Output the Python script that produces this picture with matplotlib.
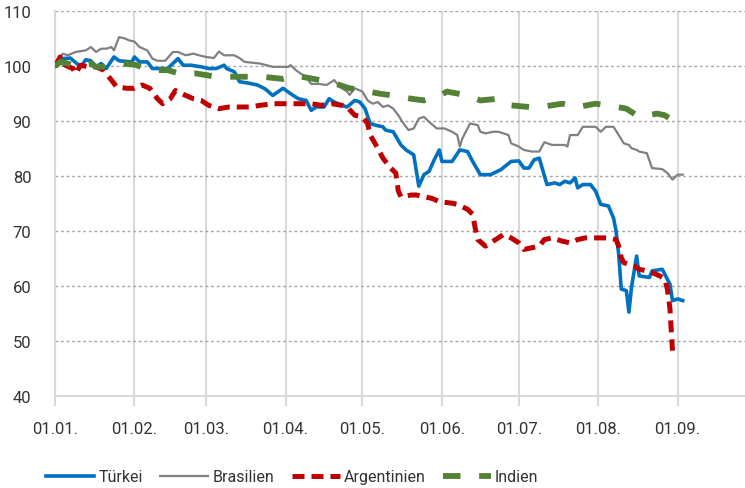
import numpy as np
import pandas as pd
import matplotlib
matplotlib.use('Agg')
import matplotlib.pyplot as plt
import matplotlib.dates as mdates

plt.rcParams['font.family'] = ['Roboto', 'DejaVu Sans']

start = pd.Timestamp('2018-01-01')

# days after 01.01. and index values
tuerkei_days = [0, 3, 6, 10, 12, 14, 16, 18, 20, 23, 25, 30, 31, 33, 36, 38, 44, 46, 48, 50,
                53, 57, 60, 63, 66, 67, 70, 72, 76, 79, 82, 85, 89, 92, 95, 98, 100, 102, 105, 107,
                109, 112, 114, 117, 119, 121, 123, 125, 128, 129, 132, 135, 137, 140, 142, 144, 146, 148, 150, 151,
                155, 158, 161, 163, 166, 170, 174, 178, 181, 183, 185, 187, 189, 192, 195, 197, 199, 201, 203, 204,
                206, 209, 211, 213, 216, 218, 219, 220, 221, 223, 224, 225, 227, 228, 232, 233, 237, 238, 240, 241,
                243, 245]
tuerkei = [100.0, 101.4, 101.5, 99.9, 101.2, 101.0, 99.9, 100.5, 99.6, 101.7, 101.0, 100.8, 101.7, 100.8, 100.8, 99.6, 99.6, 100.5, 101.4, 100.2,
           100.2, 99.9, 99.6, 99.6, 100.2, 99.6, 99.0, 97.2, 96.9, 96.6, 95.9, 94.7, 96.0, 95.0, 94.1, 93.8, 92.0, 92.6, 92.6, 94.1,
           93.5, 92.9, 92.6, 93.8, 93.5, 92.3, 89.6, 89.3, 89.0, 88.4, 88.1, 85.7, 84.8, 83.9, 78.2, 80.3, 80.9, 83.0, 84.8, 82.7,
           82.7, 84.8, 84.5, 82.7, 80.3, 80.3, 81.2, 82.7, 82.8, 81.5, 81.5, 83.0, 83.3, 78.5, 78.8, 78.5, 79.1, 78.8, 79.7, 77.9,
           78.5, 78.5, 77.3, 74.9, 74.6, 72.4, 70.0, 65.8, 59.5, 59.2, 55.3, 59.8, 65.5, 61.9, 61.6, 62.8, 63.1, 62.2, 60.4, 57.4,
           57.7, 57.4]

brasilien_days = [0, 3, 5, 8, 12, 14, 16, 18, 20, 22, 23, 25, 27, 29, 31, 33, 36, 38, 40, 43,
                  46, 48, 51, 54, 57, 59, 62, 64, 66, 70, 72, 74, 80, 85, 91, 92, 94, 98, 100, 103,
                  106, 109, 111, 114, 115, 117, 120, 122, 124, 126, 128, 130, 132, 134, 136, 138, 140, 142, 144, 146,
                  149, 152, 155, 157, 158, 159, 162, 165, 166, 168, 171, 173, 175, 177, 178, 181, 183, 186, 189, 191,
                  194, 199, 200, 201, 204, 206, 211, 213, 215, 218, 220, 222, 224, 225, 227, 228, 231, 233, 237, 239,
                  241, 243, 245]
brasilien = [100.0, 102.3, 102.0, 102.6, 102.9, 103.5, 102.6, 103.2, 103.2, 103.5, 102.9, 105.3, 105.1, 104.7, 104.5, 103.5, 102.9, 101.4, 101.0, 101.0,
             102.6, 102.6, 102.0, 102.3, 101.9, 101.7, 101.5, 102.7, 102.0, 102.0, 101.5, 100.8, 100.5, 99.9, 99.9, 100.2, 99.3, 98.0, 96.8, 96.8,
             96.6, 97.5, 96.3, 95.4, 94.8, 96.0, 95.4, 93.8, 93.2, 93.5, 92.6, 92.9, 92.3, 91.1, 89.6, 88.4, 88.7, 90.5, 90.8, 89.9,
             88.7, 88.7, 88.1, 87.5, 85.4, 86.9, 89.6, 89.3, 88.1, 87.8, 88.1, 88.1, 87.8, 87.5, 86.0, 85.4, 84.8, 84.5, 84.5, 86.2,
             85.7, 85.7, 85.4, 87.5, 87.5, 89.0, 89.0, 88.1, 89.0, 89.0, 87.5, 86.0, 85.7, 85.1, 84.8, 84.5, 84.2, 81.5, 81.3, 80.6,
             79.4, 80.3, 80.3]

argentinien_days = [0, 2, 4, 7, 8, 10, 13, 16, 19, 21, 24, 28, 31, 34, 37, 40, 42, 45, 47, 51,
                    54, 57, 60, 64, 68, 72, 76, 80, 85, 90, 96, 100, 104, 108, 112, 114, 117, 120, 122, 123,
                    126, 128, 131, 133, 134, 135, 136, 139, 141, 144, 147, 150, 155, 157, 161, 163, 164, 165, 168, 171,
                    175, 178, 181, 183, 186, 189, 191, 194, 198, 201, 204, 207, 211, 216, 219, 220, 221, 222, 226, 228,
                    231, 233, 236, 238, 239, 240, 241]
argentinien = [100.0, 101.7, 100.2, 99.6, 98.7, 100.2, 99.9, 99.9, 99.3, 98.1, 96.3, 96.0, 96.0, 96.6, 96.0, 94.1, 93.2, 94.1, 95.6, 94.7,
               94.1, 93.8, 92.9, 92.3, 92.6, 92.6, 92.6, 92.9, 93.2, 93.2, 93.2, 93.2, 92.9, 93.2, 92.9, 92.6, 91.1, 90.8, 89.6, 87.5,
               85.1, 83.3, 81.5, 80.6, 77.3, 76.3, 76.3, 76.6, 76.6, 76.3, 76.0, 75.4, 75.1, 74.9, 74.0, 73.1, 70.6, 68.5, 67.3, 68.2,
               69.4, 68.8, 67.9, 66.7, 67.0, 67.3, 68.5, 68.8, 68.2, 67.9, 68.5, 68.8, 68.8, 68.8, 68.5, 67.3, 65.2, 64.3, 63.7, 63.1,
               62.8, 62.5, 61.9, 61.3, 59.5, 56.0, 48.3]

indien_days = [0, 2, 5, 8, 14, 16, 19, 26, 31, 38, 44, 50, 55, 63, 68, 73, 81, 89, 94, 101,
               107, 115, 120, 127, 132, 139, 144, 149, 153, 161, 166, 173, 175, 178, 185, 191, 198, 204, 211, 217,
               223, 228, 235, 238, 241]
indien = [100.0, 100.8, 100.5, 100.0, 100.5, 99.9, 99.9, 100.5, 100.3, 99.3, 99.3, 98.5, 98.7, 98.1, 98.1, 98.1, 98.1, 97.7, 98.3, 97.7,
          97.2, 96.0, 95.6, 95.0, 94.7, 94.1, 93.8, 94.4, 95.4, 94.7, 93.8, 94.1, 93.8, 92.9, 92.6, 92.7, 93.2, 92.6, 93.2, 92.8,
          92.3, 90.8, 91.4, 91.1, 90.2]

y_ticks = [40, 50, 60, 70, 80, 90, 100, 110]


def to_dates(days):
    return start + pd.to_timedelta(days, unit='D')


fig = plt.figure(figsize=(7.45, 4.89), dpi=100)
ax = fig.add_axes([55 / 745, 91.7 / 489, 690 / 745, 385 / 489])

ax.plot(to_dates(tuerkei_days), tuerkei, color='#0070C0', lw=2.6, label='Türkei', zorder=3)
ax.plot(to_dates(brasilien_days), brasilien, color='#808080', lw=1.6, label='Brasilien', zorder=3)
ax.plot(to_dates(argentinien_days), argentinien, color='#C00000', lw=3.6, label='Argentinien',
        dashes=(2.4, 1.4), zorder=4)
ax.plot(to_dates(indien_days), indien, color='#538135', lw=4.2, label='Indien',
        dashes=(3.0, 3.2), zorder=4)

ax.set_ylim(40, 110)
ax.set_yticks(y_ticks)
ax.set_xlim(start, start + pd.Timedelta(days=269.3))
ax.xaxis.set_major_locator(mdates.MonthLocator(bymonthday=1))
ax.xaxis.set_major_formatter(mdates.DateFormatter('%d.%m.'))

ax.grid(axis='y', color='#A6A6A6', linestyle=(0, (2, 2)), lw=1)
ax.grid(axis='x', color='#D9D9D9', linestyle='-', lw=1.5)
ax.set_axisbelow(True)

for s in ['top', 'right']:
    ax.spines[s].set_visible(False)
for s in ['left', 'bottom']:
    ax.spines[s].set_color('#D9D9D9')
    ax.spines[s].set_linewidth(1.5)

ax.tick_params(axis='y', length=0, pad=17, labelsize=12, labelcolor='#333333')
ax.tick_params(axis='x', length=7, width=1.5, color='#D9D9D9', pad=11, labelsize=12, labelcolor='#333333')

fig.legend(loc='center left', bbox_to_anchor=(32 / 745, 11 / 489), ncol=4, frameon=False,
           fontsize=11.5, handlelength=3.0, columnspacing=1.1, handletextpad=0.25,
           labelcolor='#333333')

fig.savefig('out.png', dpi=100)
